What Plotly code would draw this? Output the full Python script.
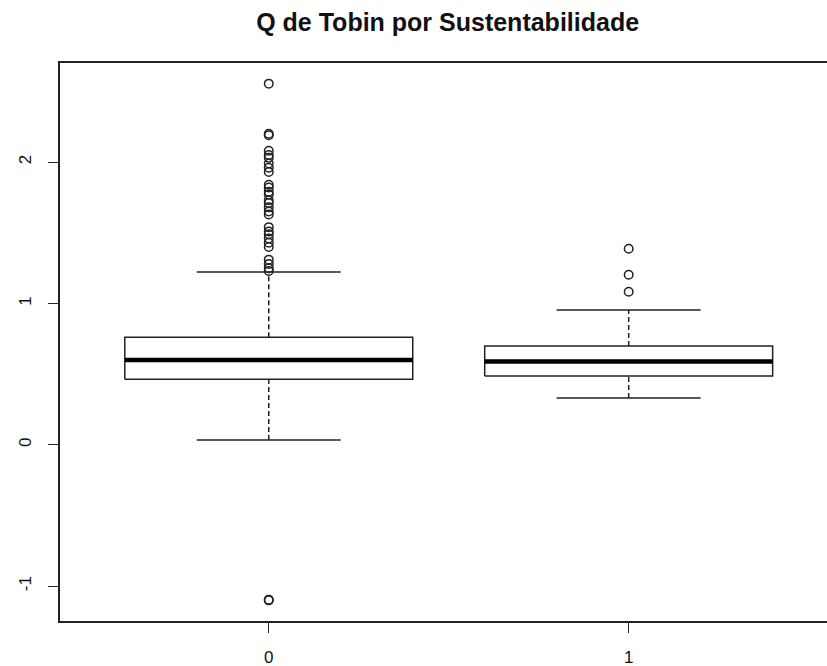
import plotly.graph_objects as go

# Box statistics of Tobin's Q per sustainability group
groups = ["0", "1"]
q1 = [0.464, 0.487]
median = [0.601, 0.589]
q3 = [0.761, 0.700]
whisker_low = [0.035, 0.332]
whisker_high = [1.223, 0.954]

outliers_0 = [2.555, 2.20, 2.19, 2.08, 2.05, 2.03, 1.99, 1.96, 1.93,
              1.84, 1.82, 1.79, 1.77, 1.73, 1.71, 1.68, 1.65, 1.63,
              1.54, 1.51, 1.49, 1.46, 1.43, 1.40,
              1.31, 1.28, 1.25, 1.23, -1.095, -1.10]
outliers_1 = [1.387, 1.203, 1.083]
outliers = [outliers_0, outliers_1]

y_ticks = [-1, 0, 1, 2]
y_tick_labels = ["-1", "0", "1", "2"]

LINE = "#222222"
box_half = 0.4     # boxwex 0.8
cap_half = 0.2     # staple half width

fig = go.Figure()

for i, g in enumerate(groups):
    xc = i + 1
    # box outline
    fig.add_trace(go.Scatter(
        x=[xc - box_half, xc + box_half, xc + box_half, xc - box_half, xc - box_half],
        y=[q1[i], q1[i], q3[i], q3[i], q1[i]],
        mode="lines", line=dict(color=LINE, width=1.5), hoverinfo="skip"))
    # median
    fig.add_trace(go.Scatter(
        x=[xc - box_half, xc + box_half], y=[median[i], median[i]],
        mode="lines", line=dict(color="#000000", width=4.5), hoverinfo="skip"))
    # dashed whiskers
    for lo, hi in [(whisker_low[i], q1[i]), (q3[i], whisker_high[i])]:
        fig.add_trace(go.Scatter(
            x=[xc, xc], y=[lo, hi], mode="lines",
            line=dict(color=LINE, width=1.5, dash="5px,3px"), hoverinfo="skip"))
    # staples
    for v in (whisker_low[i], whisker_high[i]):
        fig.add_trace(go.Scatter(
            x=[xc - cap_half, xc + cap_half], y=[v, v], mode="lines",
            line=dict(color=LINE, width=1.5), hoverinfo="skip"))
    # outliers
    fig.add_trace(go.Scatter(
        x=[xc] * len(outliers[i]), y=outliers[i], mode="markers",
        marker=dict(symbol="circle-open", size=8.5, color="#222222",
                    line=dict(width=1.5, color="#222222"))))

fig.update_layout(
    width=827, height=666,
    margin=dict(l=60, r=0, t=63, b=45),
    paper_bgcolor="white", plot_bgcolor="white",
    showlegend=False,
    font=dict(family="Liberation Sans, Arial, sans-serif", color="#111111"),
    title=dict(text="<b>Q de Tobin por Sustentabilidade</b>",
               x=0.5054, xref="paper", xanchor="center",
               y=0.967, yref="container", yanchor="middle",
               font=dict(size=25, color="#111111")),
)

fig.update_xaxes(
    range=[0.42, 2.551], tickvals=[1, 2], ticktext=groups,
    showgrid=False, zeroline=False,
    showline=True, mirror=True, linecolor=LINE, linewidth=1.5,
    ticks="outside", ticklen=10, tickwidth=1.3, tickcolor=LINE,
    tickfont=dict(size=17), ticklabelstandoff=10)

fig.update_yaxes(
    range=[-1.246, 2.701], tickvals=y_ticks, ticktext=y_tick_labels,
    showgrid=False, zeroline=False,
    showline=True, mirror=False, linecolor=LINE, linewidth=1.5,
    ticks="outside", ticklen=10, tickwidth=1.3, tickcolor=LINE,
    tickangle=-90, tickfont=dict(size=17), ticklabelstandoff=10)

fig.write_html("out.html")
